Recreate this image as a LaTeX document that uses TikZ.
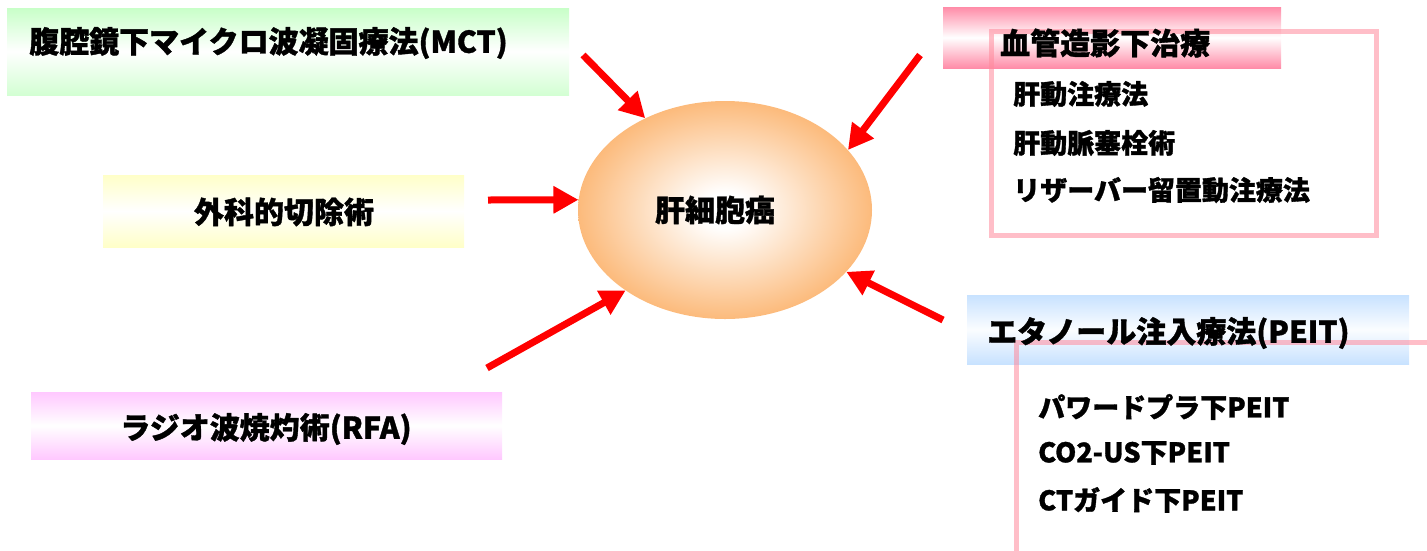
\documentclass[tikz,border=0pt]{standalone}
\usepackage{fontspec}
\newfontfamily\jp{Noto Sans CJK JP}[BoldFeatures={FakeBold=1.2}]
\usetikzlibrary{arrows.meta,shapes.geometric}
\definecolor{mctgreen}{RGB}{200,255,200}
\definecolor{surgyellow}{RGB}{255,255,200}
\definecolor{rfapink}{RGB}{255,200,255}
\definecolor{angiopink}{RGB}{255,140,168}
\definecolor{peitblue}{RGB}{200,226,255}
\definecolor{framepink}{RGB}{255,137,155}
\definecolor{cancerorange}{RGB}{251,170,92}
\pgfdeclareradialshading{cancershade}{\pgfpoint{0bp}{0bp}}{color(0bp)=(white); color(4bp)=(white); color(30bp)=(cancerorange); color(50bp)=(cancerorange)}
\tikzset{
  boxshape/.style={rectangle, inner sep=0pt, draw=none},
  titletext/.style={font=\jp\bfseries\fontsize{30}{30}\selectfont, inner sep=0pt},
  itemtext/.style={font=\jp\bfseries\fontsize{27}{27}\selectfont, inner sep=0pt, anchor=west},
  redarrow/.style={draw=red, line width=7pt, -{Triangle[length=25pt,width=26pt]}},
  pinkframe/.style={draw=framepink, line width=5pt, opacity=0.55}
}
\begin{document}
\begin{tikzpicture}[x=1pt,y=-1pt]
\useasboundingbox (0,0) rectangle (1427,550);
% boxes
\node[boxshape, minimum width=562pt, minimum height=87pt, top color=mctgreen, bottom color=mctgreen!80, middle color=white] (mctbox) at (288,51.5) {};
\node[boxshape, minimum width=361pt, minimum height=72pt, top color=surgyellow, bottom color=surgyellow, middle color=white] (surgbox) at (283.5,211) {};
\node[boxshape, minimum width=471pt, minimum height=67pt, top color=rfapink, bottom color=rfapink, middle color=white] (rfabox) at (266.5,425.5) {};
\node[boxshape, minimum width=338pt, minimum height=61pt, top color=angiopink, bottom color=angiopink, middle color=white] (angiobox) at (1112,37.5) {};
\node[boxshape, minimum width=442pt, minimum height=69pt, top color=peitblue, bottom color=peitblue, middle color=white!92!peitblue] (peitbox) at (1188,329.5) {};
% pink frames
\coordinate (fa) at (991,31);
\coordinate (fb) at (1376,235);
\draw[pinkframe] (fa) rectangle (fb);
\coordinate (la) at (1016,550);
\coordinate (lb) at (1016,342);
\coordinate (lc) at (1427,342);
\draw[pinkframe, line cap=rect] (la) -- (lb) -- (lc);
% ellipse
\node[ellipse, minimum width=294pt, minimum height=218pt, inner sep=0pt, shading=cancershade] (cancer) at (725,210) {};
\node[titletext] (cancertext) at (715,210) {肝細胞癌};
% texts
\node[titletext, anchor=west] (mcttext) at (29,43) {腹腔鏡下マイクロ波凝固療法(MCT)};
\node[titletext] (surgtext) at (284,212) {外科的切除術};
\node[titletext] (rfatext) at (266,429) {ラジオ波焼灼術(RFA)};
\node[titletext, anchor=west] (angiotext) at (1000,43) {血管造影下治療};
\node[titletext, anchor=west] (peittext) at (987,333) {エタノール注入療法(PEIT)};
\node[itemtext] (a1) at (1013,94) {肝動注療法};
\node[itemtext] (a2) at (1013,143) {肝動脈塞栓術};
\node[itemtext] (a3) at (1013,190) {リザーバー留置動注療法};
\node[itemtext] (p1) at (1038,407) {パワードプラ下PEIT};
\node[itemtext] (p2) at (1038,453) {CO2-US下PEIT};
\node[itemtext] (p3) at (1038,500) {CTガイド下PEIT};
% arrows
\coordinate (t1) at (583,55);
\coordinate (t2) at (488,200);
\coordinate (t3) at (487,368);
\coordinate (t4) at (920,55);
\coordinate (t5) at (943,320);
\draw[redarrow] (t1) -- (cancer.131);
\draw[redarrow] (t2) -- (cancer.176);
\draw[redarrow] (t3) -- (cancer.219);
\draw[redarrow] (t4) -- (cancer.26);
\draw[redarrow] (t5) -- (cancer.333);
\end{tikzpicture}
\end{document}
